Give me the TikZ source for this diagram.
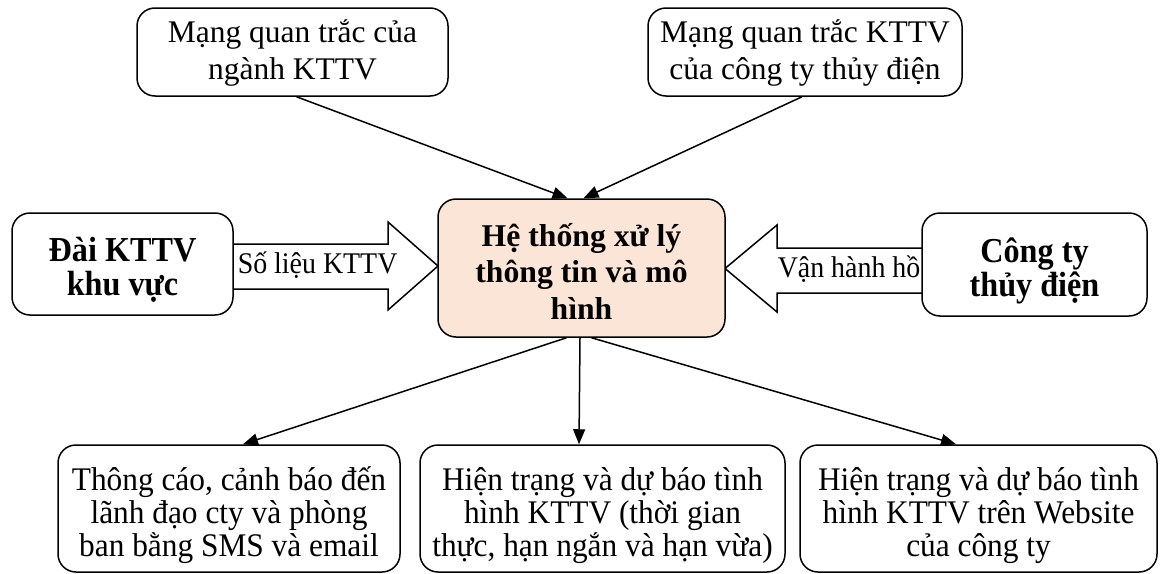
\documentclass[tikz,border=0pt]{standalone}
\usepackage{fontspec}
\setmainfont{Liberation Serif}
\newfontfamily\condfont[FakeStretch=0.95]{Liberation Serif}
\newfontfamily\sidefont[FakeStretch=0.92]{Liberation Serif}
\newfontfamily\labfont[FakeStretch=0.93]{Liberation Serif}
\usetikzlibrary{arrows.meta}
\definecolor{peach}{HTML}{FBE5D6}
\begin{document}
\begin{tikzpicture}[x=1pt,y=-1pt,line width=1.5pt,
  frame/.style={draw,rounded corners=18pt,inner sep=0pt},
  txt/.style={align=center,inner sep=0pt},
  toptxt/.style={txt,font=\fontsize{31.5}{37}\selectfont},
  bottxt/.style={txt,font=\condfont\fontsize{33}{33}\selectfont},
  sidetxt/.style={txt,font=\sidefont\bfseries\fontsize{35}{34}\selectfont},
  conn/.style={-{Triangle[length=15pt,width=12pt]}},
  blockarrow/.style={draw,fill=white,line join=miter},
  arrowlabel/.style={inner sep=0pt,anchor=base west,font=\labfont\fontsize{30}{32}\selectfont}]
\useasboundingbox (0,0) rectangle (1161,573);

% top boxes
\node[frame,minimum width=311pt,minimum height=88pt] (tl) at (292.5,52) {};
\node[toptxt] (tlt) at ([yshift=-1pt]tl.center) {Mạng quan trắc của\\ngành KTTV};
\node[frame,minimum width=314pt,minimum height=88pt] (tr) at (805,52) {};
\node[toptxt] (trt) at ([yshift=-1pt]tr.center) {Mạng quan trắc KTTV\\của công ty thủy điện};

% block arrows
\draw[blockarrow] (233,244) -- (388,244) -- (388,222) -- (438,266) -- (388,310) -- (388,289) -- (233,289);
\node[arrowlabel] (la) at (237,273) {Số liệu KTTV};
\draw[blockarrow] (922,248) -- (777,248) -- (777,225) -- (725,268.5) -- (777,312) -- (777,293) -- (922,293);
\node[arrowlabel] (ra) at (777,277) {Vận hành hồ};

% side boxes
\node[frame,fill=white,minimum width=221pt,minimum height=102pt] (lb) at (122.5,264) {};
\node[sidetxt] (lbt) at ([yshift=-6pt]lb.center) {Đài KTTV\\khu vực};
\node[frame,fill=white,minimum width=225pt,minimum height=103pt] (rb) at (1034.5,264.5) {};
\node[sidetxt] (rbt) at ([yshift=-6pt]rb.center) {Công ty\\thủy điện};

% centre
\node[frame,fill=peach,minimum width=287pt,minimum height=138pt] (ctr) at (581.5,268) {};
\node[toptxt,font=\bfseries\fontsize{31.7}{36.5}\selectfont] (ctrt) at ([yshift=-3pt]ctr.center) {Hệ thống xử lý\\thông tin và mô\\hình};

% bottom boxes
\node[frame,minimum width=342pt,minimum height=127pt] (b1) at (229,508.5) {};
\node[bottxt] (b1t) at ([yshift=-7pt]b1.center) {Thông cáo, cảnh báo đến\\lãnh đạo cty và phòng\\ban bằng SMS và email};
\node[frame,minimum width=365pt,minimum height=127pt] (b2) at (602.5,508.5) {};
\node[bottxt] (b2t) at ([yshift=-7pt]b2.center) {Hiện trạng và dự báo tình\\hình KTTV (thời gian\\thực, hạn ngắn và hạn vừa)};
\node[frame,minimum width=357pt,minimum height=127pt] (b3) at (978.5,508.5) {};
\node[bottxt] (b3t) at ([yshift=-7pt]b3.center) {Hiện trạng và dự báo tình\\hình KTTV trên Website\\của công ty};

% connectors
\draw[conn] ([xshift=4pt]tl.south) -- ([xshift=-14pt]ctr.north);
\draw[conn] ([xshift=-3pt]tr.south) -- ([xshift=2pt]ctr.north);
\draw[conn] ([xshift=-15pt]ctr.south) -- ([xshift=14pt]b1.north);
\draw[conn] ([xshift=-1.5pt]ctr.south) -- ([xshift=-23.5pt]b2.north);
\draw[conn] ([xshift=10pt]ctr.south) -- ([xshift=-22.5pt]b3.north);
\end{tikzpicture}
\end{document}
